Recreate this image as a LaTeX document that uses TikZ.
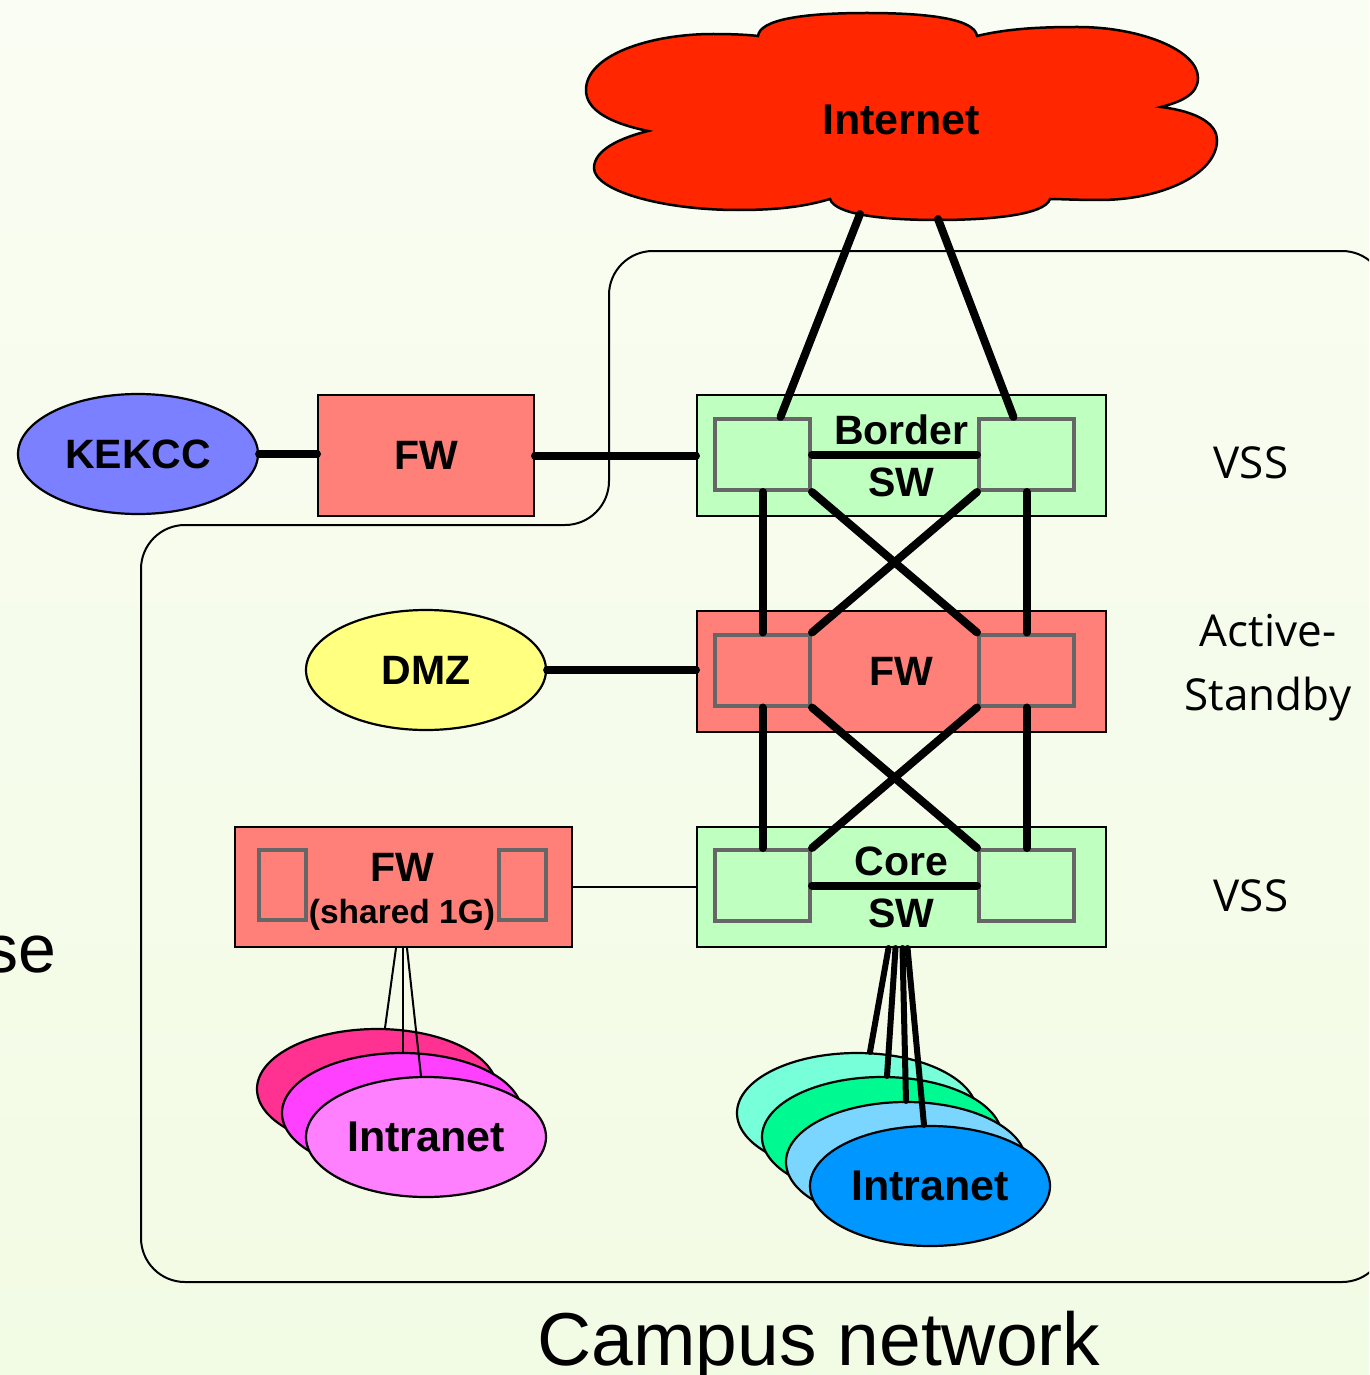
\documentclass[tikz,border=0pt]{standalone}
\usepackage{fontspec}
\setmainfont{Liberation Sans}
\newfontfamily\lblfont{Open Sans}
\usetikzlibrary{shapes.geometric}
\definecolor{cBgTop}{RGB}{250,253,243}
\definecolor{cBgBot}{RGB}{242,251,228}
\definecolor{cRed}{RGB}{255,38,0}
\definecolor{cGreen}{RGB}{191,255,191}
\definecolor{cSalmon}{RGB}{255,128,121}
\definecolor{cSubGray}{RGB}{102,102,102}
\definecolor{cBlue}{RGB}{122,128,255}
\definecolor{cYellow}{RGB}{255,255,128}
\definecolor{cPinkA}{RGB}{255,50,145}
\definecolor{cPinkB}{RGB}{255,64,255}
\definecolor{cPinkC}{RGB}{255,128,255}
\definecolor{cAqua}{RGB}{118,255,216}
\definecolor{cMint}{RGB}{0,250,146}
\definecolor{cSky}{RGB}{122,213,255}
\definecolor{cAzure}{RGB}{0,150,255}
\begin{document}
\begin{tikzpicture}[x=1pt,y=-1pt,
  box/.style={draw=black, line width=2pt, inner sep=0pt},
  sub/.style={draw=cSubGray, line width=4pt, minimum width=95pt, minimum height=71pt, inner sep=0pt},
  ell/.style={ellipse, draw=black, line width=2.2pt, minimum width=240pt, minimum height=120pt, inner sep=0pt},
  link/.style={line width=8pt, line cap=round},
  midlink/.style={line width=6pt, line cap=round},
  thinlink/.style={line width=2pt},
  btext/.style={font=\bfseries\fontsize{41}{52}\selectfont, align=center},
  itext/.style={font=\bfseries\fontsize{43}{52}\selectfont},
  lbl/.style={font=\lblfont\fontsize{44}{50}\selectfont, inner sep=0pt}
]
\useasboundingbox (0,0) rectangle (1369,1375);
\clip (0,0) rectangle (1369,1375);
\shade[top color=cBgTop, bottom color=cBgBot] (0,0) rectangle (1369,1375);

% campus network outline
\draw[line width=2pt, rounded corners=44pt] (1386,1282) -- (1386,251) -- (609,251) -- (609,525) -- (141,525) -- (141,1282) -- cycle;

% Internet cloud
\draw[line width=2.5pt, fill=cRed] (758,36) .. controls (760,20) and (800,13) .. (867,13)
  .. controls (934,13) and (975,20) .. (977,36)
  .. controls (1010,28) and (1045,27) .. (1078,27)
  .. controls (1140,27) and (1198,50) .. (1198,78)
  .. controls (1198,95) and (1180,102) .. (1161,107)
  .. controls (1200,112) and (1217,125) .. (1217,140)
  .. controls (1217,175) and (1160,200) .. (1100,200)
  .. controls (1075,200) and (1060,199) .. (1050,199)
  .. controls (1045,215) and (990,220) .. (937,220)
  .. controls (880,220) and (835,214) .. (830,199)
  .. controls (800,208) and (770,210) .. (738,210)
  .. controls (660,210) and (594,190) .. (594,168)
  .. controls (594,150) and (620,138) .. (648,131)
  .. controls (605,122) and (586,108) .. (586,90)
  .. controls (586,55) and (650,34) .. (713,34)
  .. controls (735,34) and (750,35) .. (758,36) -- cycle;
\node[itext, anchor=base] (internet) at (901,135) {Internet};
\coordinate (i1) at (860,214);
\coordinate (i2) at (938,219);

% main column
\node[box, fill=cGreen, minimum width=409pt, minimum height=121pt, btext] (border) at (901.5,455.5) {Border\\SW};
\node[box, fill=cSalmon, minimum width=409pt, minimum height=121pt, btext] (fwm) at (901.5,671.5) {FW};
\node[box, fill=cGreen, minimum width=409pt, minimum height=120pt, btext] (core) at (901.5,887) {Core\\SW};

\node[sub] (bl) at (762.5,454.5) {};
\node[sub] (br) at (1026.5,454.5) {};
\node[sub] (fl) at (762.5,670) {};
\node[sub] (fr) at (1026.5,670) {};
\node[sub] (cl) at (762.5,885.5) {};
\node[sub] (cr) at (1026.5,885.5) {};

\draw[link] (i1) -- ([xshift=18pt]bl.north);
\draw[link] (i2) -- ([xshift=-13pt]br.north);
\draw[link] (bl.east) -- (br.west);
\draw[link] (bl.south) -- (fl.north);
\draw[link] (br.south) -- (fr.north);
\draw[link] (bl.south east) -- (fr.north west);
\draw[link] (br.south west) -- (fl.north east);
\draw[link] (fl.south) -- (cl.north);
\draw[link] (fr.south) -- (cr.north);
\draw[link] (fl.south east) -- (cr.north west);
\draw[link] (fr.south west) -- (cl.north east);
\draw[link] (cl.east) -- (cr.west);

% KEKCC and FW
\node[ell, fill=cBlue, btext] (kekcc) at (138,454) {KEKCC};
\node[box, fill=cSalmon, minimum width=216pt, minimum height=121pt, btext] (fwk) at (426,455.5) {FW};
\draw[link] (kekcc.east) -- (kekcc.east -| fwk.west);
\draw[link] (fwk.east) -- (fwk.east -| border.west);

% DMZ
\node[ell, fill=cYellow, btext] (dmz) at (426,670) {DMZ};
\draw[link] (dmz.east) -- (dmz.east -| fwm.west);

% shared FW
\node[box, fill=cSalmon, minimum width=337pt, minimum height=120pt] (fws) at (403.5,887) {};
\node[sub, minimum width=47pt, minimum height=70pt] (fsl) at (282.5,885) {};
\node[sub, minimum width=47pt, minimum height=70pt] (fsr) at (522.5,885) {};
\node[btext, anchor=base] (fwsa) at (402,881) {FW};
\node[font=\bfseries\fontsize{33.5}{38}\selectfont, anchor=base] (fwsb) at (402,923) {(shared 1G)};
\draw[thinlink] (fws.east) -- (fws.east -| core.west);

% pink intranets
\node[ell, fill=cPinkA] (pa) at (377,1089) {};
\node[ell, fill=cPinkB] (pb) at (402,1113) {};
\node[ell, fill=cPinkC, itext] (pc) at (426,1137) {Intranet};
\draw[thinlink] ([xshift=-7.5pt]fws.south) -- ([xshift=8pt]pa.north);
\draw[thinlink] ([xshift=-0.5pt]fws.south) -- ([xshift=1pt]pb.north);
\draw[thinlink] ([xshift=3.5pt]fws.south) -- ([xshift=-5pt]pc.north);

% blue intranets
\node[ell, fill=cAqua] (ba) at (857,1113) {};
\node[ell, fill=cMint] (bb) at (882,1137) {};
\node[ell, fill=cSky] (bc) at (906,1162) {};
\node[ell, fill=cAzure, itext] (bd) at (930,1186) {Intranet};
\draw[midlink] ([xshift=-13pt]core.south) -- ([xshift=13pt]ba.north);
\draw[midlink] ([xshift=-6pt]core.south) -- ([xshift=5pt]bb.north);
\draw[midlink] ([xshift=1pt]core.south) -- (bc.north);
\draw[midlink] ([xshift=6pt]core.south) -- ([xshift=-6pt]bd.north);

% right labels
\node[lbl, anchor=base] (vss1) at (1251,478) {VSS};
\node[lbl, anchor=base] (act1) at (1268,646) {Active-};
\node[lbl, anchor=base] (act2) at (1268,710) {Standby};
\node[lbl, anchor=base] (vss2) at (1251,911) {VSS};

% other texts
\node[font=\fontsize{68}{80}\selectfont, anchor=base east, inner sep=0pt] (se) at (57,972) {se};
\node[font=\fontsize{75}{85}\selectfont, anchor=base, inner sep=0pt] (campus) at (819,1365) {Campus network};
\end{tikzpicture}
\end{document}
